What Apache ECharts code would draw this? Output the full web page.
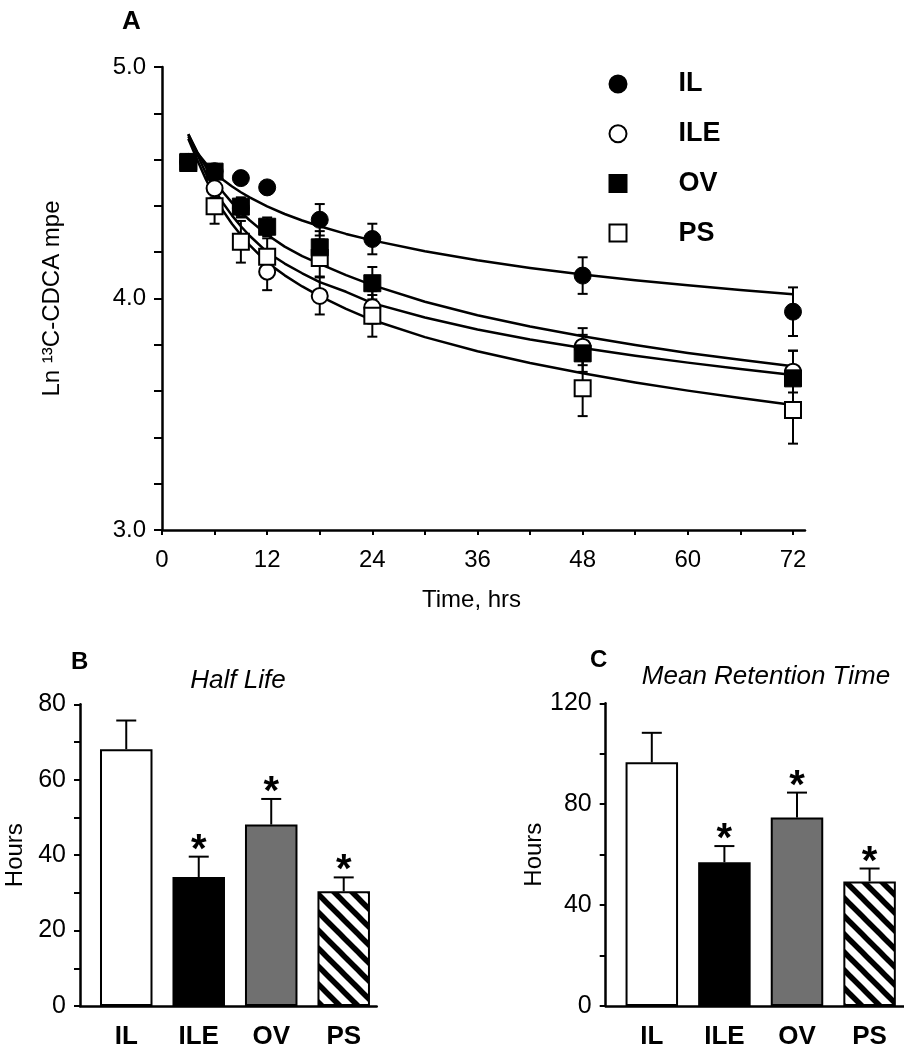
<!DOCTYPE html>
<html><head><meta charset="utf-8">
<script src="https://cdn.jsdelivr.net/npm/echarts@6/dist/echarts.min.js"></script>
<style>html,body{margin:0;padding:0;background:#fff}#c{width:904px;height:1050px}</style>
</head><body><div id="c"></div>
<script>
// ---------- Panel A data ----------
const sampleTimes = [3, 6, 9, 12, 18, 24, 48, 72];
const IL  = [4.59, 4.55, 4.52, 4.48, 4.34, 4.257, 4.099, 3.943];
const ILE = [4.59, 4.476, 4.39, 4.116, 4.011, 3.962, 3.792, 3.684];
const OV  = [4.59, 4.548, 4.397, 4.31, 4.221, 4.066, 3.763, 3.655];
const PS  = [4.585, 4.398, 4.245, 4.18, 4.175, 3.925, 3.612, 3.518];
const IL_err  = [0.02, 0.03, 0.02, 0.02, 0.068, 0.066, 0.079, 0.105];
const ILE_err = [0.02, 0.04, 0.04, 0.08, 0.08, 0.07, 0.08, 0.09];
const OV_err  = [0.02, 0.03, 0.04, 0.04, 0.07, 0.07, 0.08, 0.12];
const PS_err  = [0.02, 0.075, 0.09, 0.08, 0.08, 0.09, 0.12, 0.145];
// fitted curves
const fitTimes = [3, 4, 5, 6, 7, 8, 9, 10, 12, 14, 16, 18, 21, 24, 30, 36, 42, 48, 54, 60, 66, 72];
const fitIL  = [4.70, 4.631, 4.584, 4.545, 4.512, 4.484, 4.459, 4.437, 4.398, 4.365, 4.337, 4.312, 4.279, 4.251, 4.204, 4.165, 4.132, 4.104, 4.079, 4.057, 4.037, 4.018];
const fitOV  = [4.71, 4.635, 4.568, 4.51, 4.458, 4.413, 4.374, 4.338, 4.275, 4.224, 4.183, 4.15, 4.101, 4.058, 3.986, 3.928, 3.879, 3.837, 3.799, 3.765, 3.735, 3.707];
const fitILE = [4.71, 4.625, 4.541, 4.47, 4.41, 4.358, 4.312, 4.271, 4.20, 4.151, 4.109, 4.071, 4.029, 3.98, 3.918, 3.866, 3.823, 3.786, 3.753, 3.723, 3.695, 3.670];
const fitPS  = [4.69, 4.60, 4.515, 4.44, 4.377, 4.322, 4.274, 4.231, 4.155, 4.10, 4.052, 4.01, 3.955, 3.907, 3.833, 3.772, 3.721, 3.677, 3.637, 3.602, 3.57, 3.54];
const xTickValues = [0, 6, 12, 18, 24, 30, 36, 42, 48, 54, 60, 66, 72];
const xLabelValues = [0, 12, 24, 36, 48, 60, 72];

// ---------- Panels B & C data ----------
const groups = ['IL', 'ILE', 'OV', 'PS'];
const groupPos = [1, 2, 3, 4];
const halfLife = [68.1, 34.2, 48.1, 30.4];
const halfLifeErr = [7.6, 5.4, 6.8, 3.7];
const meanRetention = [96.6, 57.0, 74.7, 49.4];
const meanRetentionErr = [11.7, 6.4, 9.9, 5.1];
const significant = [0, 1, 1, 1];

const FONT = '"Liberation Sans", Arial, Helvetica, sans-serif';

function hatch() {
  const N = 18, c = document.createElement('canvas');
  c.width = N; c.height = N;
  const g = c.getContext('2d');
  g.fillStyle = '#fff'; g.fillRect(0, 0, N, N);
  g.strokeStyle = '#000'; g.lineWidth = 5.5;
  for (let k = -1; k <= 1; k++) {
    g.beginPath(); g.moveTo(k * N - 6, -6); g.lineTo(k * N + N + 6, N + 6); g.stroke();
  }
  return c;
}
const hatchPattern = { image: hatch(), repeat: 'repeat' };
const barFills = ['#ffffff', '#000000', '#707070', hatchPattern];

const chart = echarts.init(document.getElementById('c'), null, { renderer: 'canvas' });

const pair = (ts, vs) => vs.map((v, i) => [ts[i], v]);
const errData = [];
[[IL, IL_err], [ILE, ILE_err], [OV, OV_err], [PS, PS_err]].forEach(([vals, errs]) => {
  vals.forEach((v, i) => errData.push([sampleTimes[i], v, errs[i]]));
});

function errRenderA(params, api) {
  const x = api.value(0), v = api.value(1), e = api.value(2);
  const hi = api.coord([x, v + e]), lo = api.coord([x, v - e]);
  const st = { stroke: '#000', lineWidth: 2 };
  return { type: 'group', children: [
    { type: 'line', shape: { x1: hi[0], y1: hi[1], x2: lo[0], y2: lo[1] }, style: st },
    { type: 'line', shape: { x1: hi[0] - 5, y1: hi[1], x2: hi[0] + 5, y2: hi[1] }, style: st },
    { type: 'line', shape: { x1: lo[0] - 5, y1: lo[1], x2: lo[0] + 5, y2: lo[1] }, style: st }
  ]};
}
function errRenderBar(params, api) {
  const x = api.value(0), v = api.value(1), e = api.value(2), s = api.value(3);
  const top = api.coord([x, v]), cap = api.coord([x, v + e]);
  const st = { stroke: '#000', lineWidth: 2 };
  const ch = [
    { type: 'line', shape: { x1: top[0], y1: top[1], x2: cap[0], y2: cap[1] }, style: st },
    { type: 'line', shape: { x1: cap[0] - 10, y1: cap[1], x2: cap[0] + 10, y2: cap[1] }, style: st }
  ];
  if (s) ch.push({ type: 'text', x: cap[0], y: cap[1] - 6,
    style: { text: '*', fontSize: 40, fontWeight: 'bold', fontFamily: FONT, fill: '#000', align: 'center', verticalAlign: 'middle' } });
  return { type: 'group', children: ch };
}

const axisLineStyle = { color: '#000', width: 2.5 };
const fitLine = (name, vals) => ({
  name, type: 'line', xAxisIndex: 0, yAxisIndex: 0, data: pair(fitTimes, vals),
  showSymbol: false, smooth: false, silent: true, z: 3,
  lineStyle: { color: '#000', width: 2.5, join: 'round' }
});
const scatter = (name, vals, symbol, size, filled, z) => ({
  name, type: 'scatter', xAxisIndex: 0, yAxisIndex: 0, data: pair(sampleTimes, vals),
  symbol, symbolSize: size, z,
  itemStyle: filled ? { color: '#000', borderColor: '#000', borderWidth: 1, opacity: 1 }
                    : { color: '#fff', borderColor: '#000', borderWidth: 2, opacity: 1 }
});

const barGridB = { left: 80, top: 704.3, width: 296.7, height: 302.4 };
const barGridC = { left: 605.7, top: 703.3, width: 298.3, height: 304.4 };

function barXAxis(gridIndex, min, max) {
  return {
    type: 'value', gridIndex, min, max,
    axisLine: { show: true, lineStyle: axisLineStyle },
    axisTick: { show: false },
    splitLine: { show: false },
    axisLabel: { customValues: groupPos, formatter: v => groups[Math.round(v) - 1] || '',
      fontSize: 26, fontWeight: 'bold', color: '#000', fontFamily: FONT, margin: 18 }
  };
}
function barYAxis(gridIndex, max, step, labelStep) {
  return {
    type: 'value', gridIndex, min: 0, max, interval: step,
    name: 'Hours', nameLocation: 'middle', nameRotate: 90, nameGap: 53,
    nameTextStyle: { fontSize: 24, color: '#000', fontFamily: FONT },
    axisLine: { show: true, lineStyle: axisLineStyle },
    axisTick: { show: true, inside: false, length: 6, lineStyle: { color: '#000', width: 2 } },
    splitLine: { show: false },
    axisLabel: { fontSize: 25, color: '#000', fontFamily: FONT, margin: 14,
      formatter: v => (Math.round(v) % labelStep === 0 ? String(Math.round(v)) : '') }
  };
}

const option = {
  backgroundColor: '#fff',
  animation: false,
  textStyle: { fontFamily: FONT },
  title: [
    { text: 'A', left: 117, top: 4, textStyle: { fontSize: 26, fontWeight: 'bold', color: '#000', fontFamily: FONT } },
    { text: 'B', left: 66, top: 645, textStyle: { fontSize: 24, fontWeight: 'bold', color: '#000', fontFamily: FONT } },
    { text: 'C', left: 585, top: 643, textStyle: { fontSize: 24, fontWeight: 'bold', color: '#000', fontFamily: FONT } },
    { text: 'Half Life', left: 233, top: 663, textAlign: 'center',
      textStyle: { fontSize: 26, fontStyle: 'italic', fontWeight: 'normal', color: '#000', fontFamily: FONT } },
    { text: 'Mean Retention Time', left: 761, top: 659, textAlign: 'center',
      textStyle: { fontSize: 26, fontStyle: 'italic', fontWeight: 'normal', color: '#000', fontFamily: FONT } }
  ],
  legend: {
    orient: 'vertical', left: 603.5, top: 65.5, itemWidth: 17, itemHeight: 17, itemGap: 22.7,
    selectedMode: false,
    data: [ { name: 'IL', icon: 'circle' }, { name: 'ILE', icon: 'circle' },
            { name: 'OV', icon: 'rect' }, { name: 'PS', icon: 'rect' } ],
    textStyle: { fontSize: 27, fontWeight: 'bold', color: '#000', fontFamily: FONT, padding: [0, 0, 0, 47] }
  },
  grid: [
    { left: 162, top: 67, width: 643, height: 463 },
    barGridB, barGridC
  ],
  xAxis: [
    { type: 'value', gridIndex: 0, min: 0, max: 73.37, interval: 6,
      name: 'Time, hrs', nameLocation: 'middle', nameGap: 58,
      nameTextStyle: { fontSize: 24, color: '#000', fontFamily: FONT, padding: [0, 24, 0, 0] },
      axisLine: { show: true, lineStyle: axisLineStyle },
      axisTick: { show: true, inside: false, length: 5, customValues: xTickValues, lineStyle: { color: '#000', width: 2 } },
      splitLine: { show: false },
      axisLabel: { customValues: xLabelValues, fontSize: 24, color: '#000', fontFamily: FONT, margin: 18,
        formatter: v => (Math.abs(v % 12) < 1e-6 ? String(v) : '') } },
    barXAxis(1, 0.362, 4.455),
    barXAxis(2, 0.365, 4.474)
  ],
  yAxis: [
    { type: 'value', gridIndex: 0, min: 3, max: 5, interval: 0.2,
      name: 'Ln ¹³C-CDCA mpe', nameLocation: 'middle', nameRotate: 90, nameGap: 98,
      nameTextStyle: { fontSize: 24, color: '#000', fontFamily: FONT },
      axisLine: { show: true, lineStyle: axisLineStyle },
      axisTick: { show: true, inside: false, length: 8, lineStyle: { color: '#000', width: 2 } },
      splitLine: { show: false },
      axisLabel: { fontSize: 24, color: '#000', fontFamily: FONT, margin: 16,
        formatter: v => (Math.abs(v - Math.round(v)) < 1e-6 ? v.toFixed(1) : '') } },
    barYAxis(1, 80, 10, 20),
    barYAxis(2, 120, 20, 40)
  ],
  series: [
    { name: 'errA', type: 'custom', xAxisIndex: 0, yAxisIndex: 0, data: errData,
      renderItem: errRenderA, encode: { x: 0, y: 1 }, z: 2, silent: true },
    fitLine('fitIL', fitIL), fitLine('fitOV', fitOV), fitLine('fitILE', fitILE), fitLine('fitPS', fitPS),
    scatter('ILE', ILE, 'circle', 16, false, 5),
    scatter('PS', PS, 'rect', 16, false, 6),
    scatter('IL', IL, 'circle', 17, true, 7),
    scatter('OV', OV, 'rect', 17, true, 8),
    { name: 'Half Life', type: 'bar', xAxisIndex: 1, yAxisIndex: 1, barWidth: 52.5, z: 2,
      data: halfLife.map((v, i) => ({ value: [groupPos[i], v], itemStyle: { color: barFills[i] } })),
      itemStyle: { borderColor: '#000', borderWidth: 2 } },
    { name: 'Half Life err', type: 'custom', xAxisIndex: 1, yAxisIndex: 1, silent: true, z: 3,
      data: halfLife.map((v, i) => [groupPos[i], v, halfLifeErr[i], significant[i]]),
      renderItem: errRenderBar, encode: { x: 0, y: 1 } },
    { name: 'MRT', type: 'bar', xAxisIndex: 2, yAxisIndex: 2, barWidth: 52.5, z: 2,
      data: meanRetention.map((v, i) => ({ value: [groupPos[i], v], itemStyle: { color: barFills[i] } })),
      itemStyle: { borderColor: '#000', borderWidth: 2 } },
    { name: 'MRT err', type: 'custom', xAxisIndex: 2, yAxisIndex: 2, silent: true, z: 3,
      data: meanRetention.map((v, i) => [groupPos[i], v, meanRetentionErr[i], significant[i]]),
      renderItem: errRenderBar, encode: { x: 0, y: 1 } }
  ]
};
chart.setOption(option);
</script>
</body></html>
